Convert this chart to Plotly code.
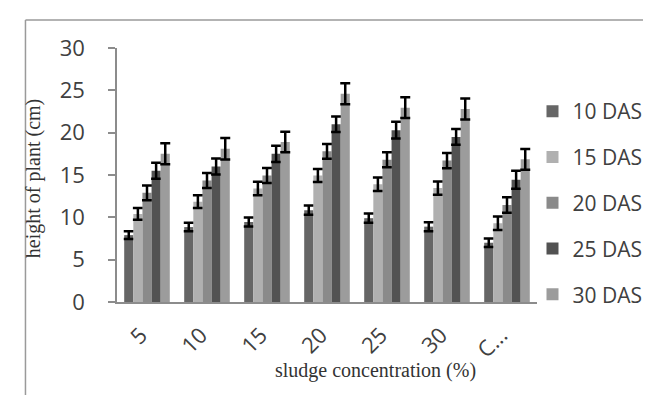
import plotly.graph_objects as go

categories = ["5", "10", "15", "20", "25", "30", "C..."]
series_names = ["10 DAS", "15 DAS", "20 DAS", "25 DAS", "30 DAS"]

das10 = [7.9, 8.85, 9.45, 10.85, 9.9, 8.9, 7.0]
das15 = [10.4, 11.85, 13.4, 14.95, 13.9, 13.45, 9.3]
das20 = [12.9, 14.35, 14.95, 17.8, 16.8, 16.7, 11.45]
das25 = [15.5, 16.0, 17.5, 21.0, 20.3, 19.5, 14.45]
das30 = [17.5, 18.1, 18.9, 24.6, 22.95, 22.8, 16.85]

err10 = [0.45, 0.5, 0.53, 0.55, 0.55, 0.53, 0.51]
err15 = [0.69, 0.75, 0.79, 0.77, 0.79, 0.79, 0.79]
err20 = [0.87, 0.9, 0.89, 0.87, 0.89, 0.89, 0.92]
err25 = [0.94, 0.95, 0.96, 0.92, 0.98, 0.94, 1.06]
err30 = [1.24, 1.28, 1.2, 1.24, 1.22, 1.24, 1.22]

y_ticks = [0, 5, 10, 15, 20, 25, 30]

values = [das10, das15, das20, das25, das30]
errors = [err10, err15, err20, err25, err30]
colors = ["#666666", "#b0b0b0", "#8a8a8a", "#525252", "#9c9c9c"]

fig = go.Figure()
for name, v, e, c in zip(series_names, values, errors, colors):
    fig.add_trace(go.Bar(
        x=categories, y=v, name=name, legendgroup=name,
        marker=dict(color=c, line=dict(width=0)),
        error_y=dict(type="data", array=e, visible=True, color="black",
                     thickness=2.5, width=5),
    ))

# plot area in pixels
L, R, T, B = 108.5, 546.7, 40, 294
W, H = 651, 395
pw, ph = R - L, B - T

def px(x):
    return (x - L) / pw

def py(y):
    return (B - y) / ph

fig.update_layout(
    width=W, height=H,
    margin=dict(l=L, r=W - R, t=T, b=H - B, pad=0),
    paper_bgcolor="white", plot_bgcolor="white",
    barmode="group", bargap=0.24, bargroupgap=0,
    font=dict(family="Open Sans", color="#404040", size=19),
    showlegend=True,
    legend=dict(x=px(542), xanchor="left", y=py(83), yanchor="top",
                font=dict(size=21, family="Open Sans", color="#404040"),
                tracegroupgap=15.5, itemwidth=30, bgcolor="rgba(0,0,0,0)"),
    xaxis=dict(showgrid=False, showline=True, linecolor="#8c8c8c", linewidth=1.5,
               ticks="", tickangle=-45, tickfont=dict(size=22),
               ticklabelstandoff=10, ticklabelshift=-6),
    yaxis=dict(range=[0, 30], tickvals=y_ticks, showgrid=False, showline=True,
               linecolor="#8c8c8c", linewidth=1.5, ticks="outside", ticklen=7,
               tickcolor="#8c8c8c", tickwidth=1.5, tickfont=dict(size=22),
               ticklabelstandoff=19, zeroline=False),
    shapes=[
        dict(type="line", xref="paper", yref="paper", x0=px(13), x1=px(660),
             y0=py(12), y1=py(12), line=dict(color="#9a9a9a", width=1.5)),
        dict(type="line", xref="paper", yref="paper", x0=px(13), x1=px(13),
             y0=py(12), y1=py(400), line=dict(color="#9a9a9a", width=1.5)),
    ],
    annotations=[
        dict(text="sludge concentration (%)", xref="paper", yref="paper",
             x=px(378), y=py(362), showarrow=False, xanchor="center", yanchor="middle",
             font=dict(family="Liberation Serif", size=20, color="#333333")),
        dict(text="height of plant (cm)", xref="paper", yref="paper",
             x=px(21), y=py(171), showarrow=False, textangle=-90,
             xanchor="center", yanchor="middle",
             font=dict(family="Liberation Serif", size=20, color="#333333")),
    ],
)

fig.write_html("out.html")
